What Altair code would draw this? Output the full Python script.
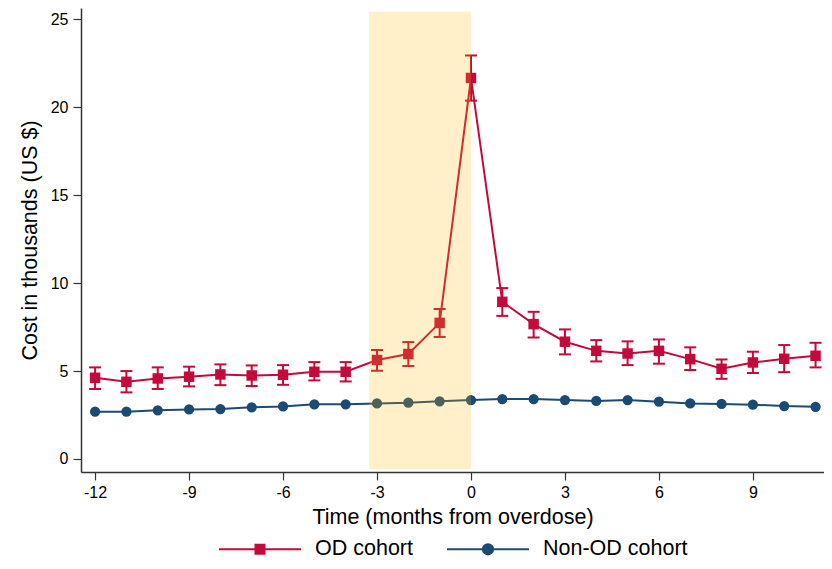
import altair as alt
import pandas as pd

# ---- data ----
months = list(range(-12, 12))
od_mean = [4.62, 4.39, 4.58, 4.68, 4.81, 4.75, 4.79, 4.96, 4.96, 5.63, 5.97, 7.74,
           21.67, 8.94, 7.67, 6.67, 6.15, 6.00, 6.15, 5.68, 5.13, 5.49, 5.70, 5.87]
od_lo = [3.98, 3.79, 3.98, 4.13, 4.20, 4.15, 4.22, 4.47, 4.41, 5.02, 5.29, 6.94,
         20.38, 8.14, 6.91, 5.95, 5.55, 5.34, 5.42, 5.06, 4.56, 4.89, 4.94, 5.21]
od_hi = [5.21, 5.00, 5.21, 5.25, 5.38, 5.32, 5.34, 5.51, 5.51, 6.20, 6.65, 8.53,
         22.95, 9.72, 8.37, 7.37, 6.76, 6.69, 6.80, 6.35, 5.66, 6.10, 6.48, 6.61]
non_od = [2.69, 2.69, 2.77, 2.82, 2.84, 2.94, 2.99, 3.11, 3.11, 3.16, 3.20, 3.28,
          3.35, 3.41, 3.41, 3.35, 3.30, 3.35, 3.26, 3.16, 3.13, 3.09, 3.01, 2.97]

series_names = ["OD cohort", "Non-OD cohort"]
x_ticks = [-12, -9, -6, -3, 0, 3, 6, 9]
y_ticks = [0, 5, 10, 15, 20, 25]
shade_x = [-3.25, 0]
shade_y = [-0.57, 25.43]
x_domain = [-12.45, 11.27]
y_domain = [-0.74, 25.65]

RED = "#C40A3A"
NAVY = "#1B4A72"
SHADE = "#FFB800"
FONT = "Liberation Sans"

od_df = pd.DataFrame({"month": months, "value": od_mean, "lo": od_lo, "hi": od_hi,
                      "series": series_names[0]})
non_df = pd.DataFrame({"month": months, "value": non_od, "series": series_names[1]})
all_df = pd.concat([od_df, non_df], ignore_index=True)
shade_df = pd.DataFrame({"x0": [shade_x[0]], "x1": [shade_x[1]],
                         "y0": [shade_y[0]], "y1": [shade_y[1]]})

X_TITLE = "Time (months from overdose)"
Y_TITLE = "Cost in thousands (US $)"


def xenc(field):
    return alt.X(field, type="quantitative",
                 scale=alt.Scale(domain=x_domain, nice=False, zero=False),
                 axis=alt.Axis(values=x_ticks, title=X_TITLE,
                               labelExpr="'' + datum.value"))


def yenc(field):
    return alt.Y(field, type="quantitative",
                 scale=alt.Scale(domain=y_domain, nice=False, zero=False),
                 axis=alt.Axis(values=y_ticks, title=Y_TITLE))


color_scale = alt.Scale(domain=series_names, range=[RED, NAVY])
shape_scale = alt.Scale(
    domain=series_names,
    range=["M-1,0L1,0M-0.11,-0.11L0.11,-0.11L0.11,0.11L-0.11,0.11Z",
           "M-1,0L1,0M-0.125,0A0.125,0.125,0,1,0,0.125,0A0.125,0.125,0,1,0,-0.125,0Z"])

leg = alt.Legend(orient="none", legendX=137, legendY=499, direction="horizontal",
                 title=None, symbolSize=6724, symbolStrokeWidth=2, symbolOpacity=1,
                 labelFont=FONT, labelFontSize=21.5, labelColor="black",
                 labelOffset=13, columnPadding=30, padding=0)

lines = alt.Chart(all_df).mark_line(strokeWidth=2).encode(
    x=xenc("month"), y=yenc("value"),
    color=alt.Color("series:N", scale=color_scale, legend=leg),
)

err_rule = alt.Chart(od_df).mark_rule(color=RED, strokeWidth=2).encode(
    x=xenc("month"), y=yenc("lo"), y2="hi"
)
cap_lo = alt.Chart(od_df).mark_tick(color=RED, orient="horizontal", size=12,
                                     thickness=2, opacity=1).encode(
    x=xenc("month"), y=yenc("lo")
)
cap_hi = alt.Chart(od_df).mark_tick(color=RED, orient="horizontal", size=12,
                                     thickness=2, opacity=1).encode(
    x=xenc("month"), y=yenc("hi")
)

od_pts = alt.Chart(od_df).mark_point(shape="square", filled=True, size=110,
                                     opacity=1, color=RED).encode(
    x=xenc("month"), y=yenc("value")
)
non_pts = alt.Chart(non_df).mark_point(shape="circle", filled=True, size=105,
                                       opacity=1, color=NAVY).encode(
    x=xenc("month"), y=yenc("value")
)

shade = alt.Chart(shade_df).mark_rect(color=SHADE, opacity=0.21).encode(
    x=xenc("x0"), x2="x1", y=yenc("y0"), y2="y1"
)

# legend-only layer: no visible marks; it gives the merged legend its symbols
legend_layer = alt.Chart(all_df).transform_filter("datum.month > 100").mark_point(
    opacity=1, strokeWidth=2).encode(
    x=xenc("month"), y=yenc("value"),
    fill=alt.Fill("series:N", scale=color_scale, legend=leg),
    stroke=alt.Stroke("series:N", scale=color_scale, legend=leg),
    shape=alt.Shape("series:N", scale=shape_scale, legend=leg),
)

chart = alt.layer(lines, err_rule, cap_lo, cap_hi, od_pts, non_pts, shade,
                  legend_layer).properties(
    width=743, height=464,
    autosize=alt.AutoSizeParams(type="none"),
    padding={"left": 73, "top": 0, "right": 0, "bottom": 89},
).configure_view(stroke=None).configure_axis(
    grid=False, domainColor="#333333", domainWidth=1.5,
    tickColor="#333333", tickWidth=1.2, tickSize=8,
    labelFont=FONT, labelFontSize=16, labelColor="black",
    titleFont=FONT, titleFontSize=21.5, titleFontWeight="normal", titleColor="black",
).configure_axisX(labelPadding=4, titlePadding=6).configure_axisY(
    labelPadding=5, titlePadding=9)

chart.save("out.html", embed_options={"renderer": "svg", "actions": False})
